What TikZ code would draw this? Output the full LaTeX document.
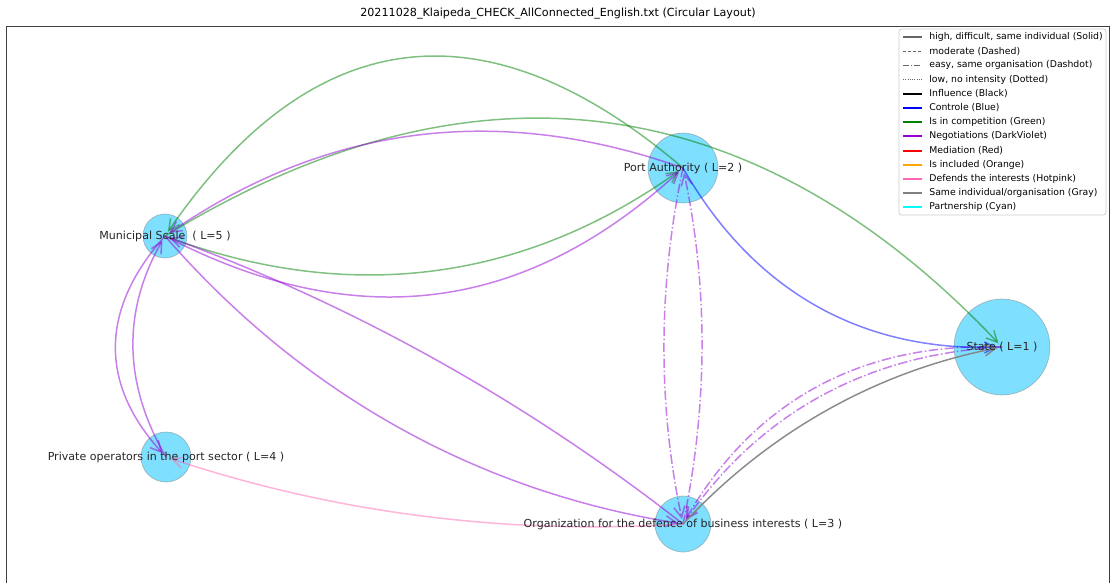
\documentclass[tikz,border=0pt]{standalone}
\usepackage{fontspec}
\setmainfont{DejaVu Sans}
\usepackage{tikz}
\usetikzlibrary{arrows.meta,positioning}
\usepackage{xcolor}
\definecolor{nxnode}{RGB}{0,191,255}
\definecolor{nxgreen}{RGB}{0,128,0}
\definecolor{nxviolet}{RGB}{148,0,211}
\definecolor{nxblue}{RGB}{0,0,255}
\definecolor{nxred}{RGB}{255,0,0}
\definecolor{nxorange}{RGB}{255,165,0}
\definecolor{nxpink}{RGB}{255,105,180}
\definecolor{nxgray}{RGB}{128,128,128}
\definecolor{nxcyan}{RGB}{0,255,255}
\tikzstyle{actor} = [circle, inner sep=0pt, fill=nxnode, fill opacity=0.5, draw=nxgray, draw opacity=0.5, line width=0.4pt]
\tikzstyle{lbl} = [inner sep=0pt, font=\fontsize{6.3}{7.5}\selectfont, text=black!85]
\tikzstyle{link} = [line width=0.85pt, draw opacity=0.5, -{Straight Barb[length=0.22cm, width=0.22cm]}, shorten >=0.1cm]
\tikzstyle{dashdot} = [dash pattern=on 0.19cm off 0.05cm on 0.03cm off 0.05cm]
\tikzstyle{keytext} = [inner sep=0pt, anchor=west, font=\fontsize{5.3}{6.3}\selectfont]
\tikzstyle{keyline} = [line width=0.6pt]

\begin{document}
\begin{tikzpicture}[x=0.02cm, y=-0.02cm]
\useasboundingbox (0,0) rectangle (1110,583);
% Frame and title
\draw[black!75, line width=0.5pt] (6,583) -- (6,26) -- (1109,26) -- (1109,583);
\node[font=\fontsize{6.35}{7.5}\selectfont] (title) at (558,14) {20211028\_Klaipeda\_CHECK\_AllConnected\_English.txt (Circular Layout)};

% Actors
\node (muni) [actor, minimum size=0.88cm] at (165,236) {};
\node (port) [actor, minimum size=1.4cm] at (683,168) {};
\node (state) [actor, minimum size=1.92cm] at (1002,347) {};
\node (priv) [actor, minimum size=1.0cm] at (166,457) {};
\node (org) [actor, minimum size=1.12cm] at (683,524) {};

% Competition
\draw[link, nxgreen] (port.center) to[bend right=48, looseness=1.27] (muni.center);
\draw[link, nxgreen] (muni.center) to[bend left=39, looseness=1.09] (state.center);
\draw[link, nxgreen] (muni.center) to[bend right=28, looseness=0.96] (port.center);

% Negotiations
\draw[link, nxviolet] (port.center) to[bend right=27, looseness=0.96] (muni.center);
\draw[link, nxviolet] (muni.center) to[bend right=35, looseness=1.05] (port.center);
\draw[link, nxviolet] (muni.center) to[bend right=42, looseness=1.14] (priv.center);
\draw[link, nxviolet] (priv.center) to[bend left=30, looseness=0.99] (muni.center);
\draw[link, nxviolet] (org.center) to[bend right=9, looseness=0.86] (muni.center);
\draw[link, nxviolet] (muni.center) to[bend right=20, looseness=0.9] (org.center);
\draw[link, nxviolet, dashdot] (port.center) to[bend right=12, looseness=0.87] (org.center);
\draw[link, nxviolet, dashdot] (org.center) to[bend right=12, looseness=0.87] (port.center);
\draw[link, nxviolet, dashdot] (state.center) to[bend right=31, looseness=0.99] (org.center);
\draw[link, nxviolet, dashdot] (state.center) to[bend right=26, looseness=0.95] (org.center);

% Control, same organisation, defends interests
\draw[link, nxblue] (port.center) to[bend right=31, looseness=0.99] (state.center);
\draw[link, nxgray, draw opacity=0.9] (org.center) to[bend left=18, looseness=0.89] (state.center);
\draw[link, nxpink] (org.center) to[bend left=11, looseness=0.87] (priv.center);

% Names
\node[lbl] (munitext) at (muni.center) {Municipal Scale\ \ ( L=5 )};
\node[lbl] (porttext) at (port.center) {Port Authority ( L=2 )};
\node[lbl] (statetext) at (state.center) {State ( L=1 )};
\node[lbl] (privtext) at (priv.center) {Private operators in the port sector ( L=4 )};
\node[lbl] (orgtext) at (org.center) {Organization for the defence of business interests ( L=3 )};

% Legend
\draw[black!20, fill=white, rounded corners=1.5pt, line width=0.4pt] (899,29) rectangle (1106,215);
\node[keytext] (k1) at (929,37) {high, difficult, same individual (Solid)};
\node[keytext] (k2) at (929,51.2) {moderate (Dashed)};
\node[keytext] (k3) at (929,65.4) {easy, same organisation (Dashdot)};
\node[keytext] (k4) at (929,79.6) {low, no intensity (Dotted)};
\node[keytext] (k5) at (929,93.8) {Influence (Black)};
\node[keytext] (k6) at (929,108) {Controle (Blue)};
\node[keytext] (k7) at (929,122.2) {Is in competition (Green)};
\node[keytext] (k8) at (929,136.4) {Negotiations (DarkViolet)};
\node[keytext] (k9) at (929,150.6) {Mediation (Red)};
\node[keytext] (k10) at (929,164.8) {Is included (Orange)};
\node[keytext] (k11) at (929,179) {Defends the interests (Hotpink)};
\node[keytext] (k12) at (929,193.2) {Same individual/organisation (Gray)};
\node[keytext] (k13) at (929,207.4) {Partnership (Cyan)};
\draw[keyline, black!60] ([xshift=-0.52cm]k1.west) -- ++(19,0);
\draw[keyline, black!60, dash pattern=on 0.06cm off 0.04cm] ([xshift=-0.52cm]k2.west) -- ++(19,0);
\draw[keyline, black!60, dash pattern=on 0.12cm off 0.04cm on 0.02cm off 0.04cm] ([xshift=-0.52cm]k3.west) -- ++(19,0);
\draw[keyline, black!60, dash pattern=on 0.02cm off 0.025cm] ([xshift=-0.52cm]k4.west) -- ++(19,0);
\draw[keyline, line width=1.1pt, black] ([xshift=-0.52cm]k5.west) -- ++(19,0);
\draw[keyline, line width=1.1pt, nxblue] ([xshift=-0.52cm]k6.west) -- ++(19,0);
\draw[keyline, line width=1.1pt, nxgreen] ([xshift=-0.52cm]k7.west) -- ++(19,0);
\draw[keyline, line width=1.1pt, nxviolet] ([xshift=-0.52cm]k8.west) -- ++(19,0);
\draw[keyline, line width=1.1pt, nxred] ([xshift=-0.52cm]k9.west) -- ++(19,0);
\draw[keyline, line width=1.1pt, nxorange] ([xshift=-0.52cm]k10.west) -- ++(19,0);
\draw[keyline, line width=1.1pt, nxpink] ([xshift=-0.52cm]k11.west) -- ++(19,0);
\draw[keyline, line width=1.1pt, nxgray] ([xshift=-0.52cm]k12.west) -- ++(19,0);
\draw[keyline, line width=1.1pt, nxcyan] ([xshift=-0.52cm]k13.west) -- ++(19,0);
\end{tikzpicture}
\end{document}
